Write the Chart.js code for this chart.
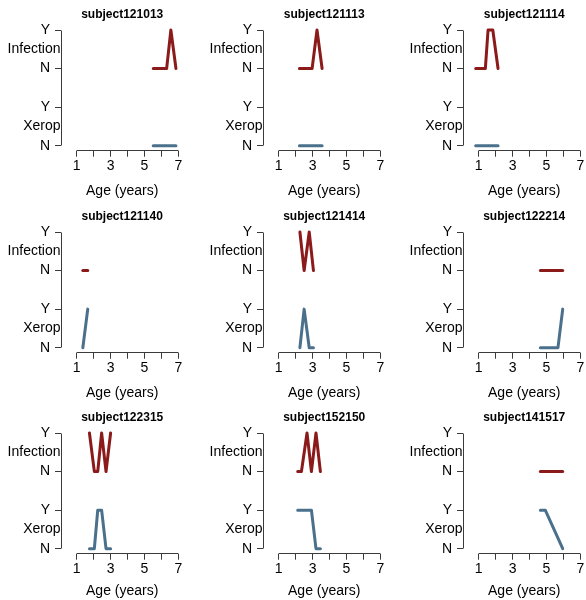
<!DOCTYPE html>
<html>
<head>
<meta charset="utf-8">
<script src="https://cdn.jsdelivr.net/npm/chart.js@4"></script>
<style>
  html, body { margin: 0; padding: 0; background: #fff; }
  #grid { position: relative; width: 586px; height: 600px; overflow: hidden; }
  #grid canvas { position: absolute; }
</style>
</head>
<body>
<div id="grid"></div>
<script>
/* data: age in years, status 0 = N, 1 = Y */
const subjects = ['subject121013', 'subject121113', 'subject121114',
                  'subject121140', 'subject121414', 'subject122214',
                  'subject122315', 'subject152150', 'subject141517'];

const ages = [
  [5.52, 6.31, 6.56, 6.86],
  [2.22, 2.97, 3.26, 3.56],
  [0.82, 1.39, 1.55, 1.83, 2.14],
  [1.36, 1.65],
  [2.25, 2.50, 2.80, 3.05],
  [4.64, 5.68, 5.96],
  [1.75, 2.04, 2.24, 2.47, 2.73, 3.00],
  [2.12, 2.34, 2.67, 2.93, 3.20, 3.46],
  [4.64, 4.93, 5.96]
];

const infection = [
  [0, 0, 1, 0],
  [0, 0, 1, 0],
  [0, 0, 1, 1, 0],
  [0, 0],
  [1, 0, 1, 0],
  [0, 0, 0],
  [1, 0, 0, 1, 0, 1],
  [0, 0, 1, 0, 1, 0],
  [0, 0, 0]
];

const xerop = [
  [0, 0, 0, 0],
  [0, 0, 0, 0],
  [0, 0, 0, 0, 0],
  [0, 1],
  [0, 1, 0, 0],
  [0, 0, 1],
  [0, 0, 1, 1, 0, 0],
  [1, 1, 1, 1, 0, 0],
  [1, 1, 0]
];

const xTicks      = [1, 2, 3, 4, 5, 6, 7];
const xTickLabels = ['1', '', '3', '', '5', '', '7'];
const yTicks      = [0, 1, 2, 3];
const yTickLabels = ['N', 'Y', 'N', 'Y'];
const rowLabels   = ['Xerop', 'Infection'];

const INF_COLOR  = '#8B1A1A';
const XER_COLOR  = '#4A708B';
const AXIS_COLOR = '#3a3a3a';
const FONT       = '"Liberation Sans", Arial, Helvetica, sans-serif';

Chart.defaults.font.family = FONT;
Chart.defaults.color = '#000';

const W = 201, H = 202;
const colLeft = [0, 202, 402];
const rowTop  = [0, 202, 403];
const rowTitlePad = [2, 2, 5];   // bottom row's x title sits a little higher

function align(v) { return Math.round(v - 0.5) + 0.5; }

/* R-style detached axis lines (tick range only) + the two row labels */
const rAxes = {
  id: 'rAxes',
  afterDraw(chart) {
    const { ctx, chartArea: a, scales: { x, y } } = chart;
    const left = align(a.left), bottom = align(a.bottom);
    ctx.save();
    ctx.strokeStyle = AXIS_COLOR;
    ctx.lineWidth = 1;
    ctx.beginPath();
    ctx.moveTo(left, align(y.getPixelForValue(yTicks[0])));
    ctx.lineTo(left, align(y.getPixelForValue(yTicks[yTicks.length - 1])));
    ctx.moveTo(align(x.getPixelForValue(xTicks[0])), bottom);
    ctx.lineTo(align(x.getPixelForValue(xTicks[xTicks.length - 1])), bottom);
    ctx.stroke();

    ctx.fillStyle = '#000';
    ctx.font = '14px ' + FONT;
    ctx.textAlign = 'right';
    ctx.textBaseline = 'middle';
    rowLabels.forEach((t, i) => ctx.fillText(t, a.left - 0.5, y.getPixelForValue(i * 2 + 0.5)));
    ctx.restore();
  }
};

function renderPanel(i) {
  const row = Math.floor(i / 3);
  const cv = document.createElement('canvas');
  cv.width = W; cv.height = H;
  cv.style.left = colLeft[i % 3] + 'px';
  cv.style.top  = rowTop[row] + 'px';
  document.getElementById('grid').appendChild(cv);

  const lineStyle = { borderWidth: 3, pointRadius: 0, tension: 0,
                      borderCapStyle: 'round', borderJoinStyle: 'round', clip: false };

  new Chart(cv, {
    type: 'line',
    data: {
      datasets: [
        { label: 'Infection', data: ages[i].map((a, k) => ({ x: a, y: infection[i][k] + 2 })),
          borderColor: INF_COLOR, ...lineStyle },
        { label: 'Xerop', data: ages[i].map((a, k) => ({ x: a, y: xerop[i][k] })),
          borderColor: XER_COLOR, ...lineStyle }
      ]
    },
    options: {
      responsive: false,
      animation: false,
      events: [],
      layout: { padding: { left: 0, top: 0, right: 17.6, bottom: 0 } },
      plugins: {
        legend: { display: false },
        tooltip: { enabled: false },
        title: {
          display: true, text: subjects[i], fullSize: false, color: '#000',
          font: { size: 12, weight: 'bold' }, padding: { top: 7.6, bottom: 3 }
        }
      },
      scales: {
        x: {
          type: 'linear', min: 0.07, max: 7.3,
          afterBuildTicks: s => { s.ticks = xTicks.map(v => ({ value: v })); },
          afterFit: s => { s.height = 51.3; },
          ticks: { autoSkip: false, maxRotation: 0, padding: 1, font: { size: 14 },
                   callback: (v, k) => xTickLabels[k] },
          grid: { drawOnChartArea: false, tickLength: 6, color: AXIS_COLOR, lineWidth: 1 },
          border: { display: false },
          title: { display: true, text: 'Age (years)', font: { size: 14 },
                   padding: { top: 0, bottom: rowTitlePad[row] } }
        },
        y: {
          type: 'linear', min: -0.13, max: 3.13,
          afterBuildTicks: s => { s.ticks = yTicks.map(v => ({ value: v })); },
          afterFit: s => { s.width = 61; },
          ticks: { padding: 5, font: { size: 14 }, callback: (v, k) => yTickLabels[k] },
          grid: { drawOnChartArea: false, tickLength: 6, color: AXIS_COLOR, lineWidth: 1 },
          border: { display: false }
        }
      }
    },
    plugins: [rAxes]
  });
}

subjects.forEach((s, i) => renderPanel(i));
</script>
</body>
</html>
